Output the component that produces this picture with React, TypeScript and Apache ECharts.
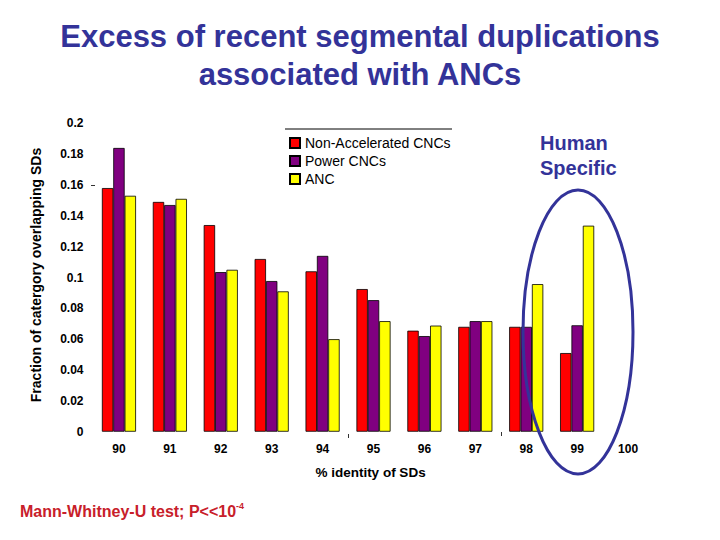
import React, { useEffect, useRef } from "react";
import * as echarts from "echarts";

const categories = ["90", "91", "92", "93", "94", "95", "96", "97", "98", "99", "100"];
const nonAccelerated = [0.158, 0.149, 0.134, 0.112, 0.104, 0.0925, 0.0655, 0.068, 0.068, 0.051, null];
const powerCNCs = [0.184, 0.147, 0.1035, 0.0977, 0.114, 0.0853, 0.062, 0.0717, 0.068, 0.069, null];
const ancValues = [0.153, 0.151, 0.105, 0.091, 0.06, 0.0717, 0.0688, 0.0717, 0.0957, 0.1336, null];
const seriesNames = ["Non-Accelerated CNCs", "Power CNCs", "ANC"];
const seriesColors = ["#ff0000", "#800080", "#ffff00"];

const FONT = "'Liberation Sans', Arial, Helvetica, sans-serif";
const BLUE = "#333399";

export default function App() {
  const ref = useRef<HTMLDivElement>(null);
  useEffect(() => {
    document.body.style.margin = "0";
    const chart = echarts.init(ref.current!, null, { renderer: "svg" });
    const seriesData = [nonAccelerated, powerCNCs, ancValues];
    chart.setOption({
      animation: false,
      backgroundColor: "#ffffff",
      grid: { left: 93.5, right: 66.5, top: 123.3, bottom: 108.3, containLabel: false },
      legend: {
        orient: "vertical",
        left: 284,
        top: 131,
        itemWidth: 10,
        itemHeight: 10,
        itemGap: 4,
        selectedMode: false,
        icon: "rect",
        textStyle: { fontFamily: FONT, fontSize: 14, color: "#000" },
        data: seriesNames,
      },
      xAxis: {
        type: "category",
        data: categories,
        axisLine: { show: false },
        axisTick: { show: false },
        axisLabel: { fontFamily: FONT, fontWeight: "bold", fontSize: 12, color: "#000", margin: 11 },
      },
      yAxis: {
        type: "value",
        min: 0,
        max: 0.2,
        interval: 0.02,
        axisLine: { show: false },
        axisTick: { show: false },
        splitLine: { show: false },
        axisLabel: {
          fontFamily: FONT,
          fontWeight: "bold",
          fontSize: 12,
          color: "#000",
          margin: 10,
          formatter: (v: number) => String(+v.toFixed(2)),
        },
      },
      series: seriesNames.map((name, i) => ({
        name,
        type: "bar",
        data: seriesData[i],
        barGap: "0%",
        barCategoryGap: "33%",
        itemStyle: { color: seriesColors[i], borderColor: "#000", borderWidth: 0.8 },
      })),
      graphic: [
        {
          type: "text",
          x: 360,
          y: 36,
          style: {
            text: "Excess of recent segmental duplications",
            font: `bold 31px ${FONT}`,
            fill: BLUE,
            textAlign: "center",
            textVerticalAlign: "middle",
          },
        },
        {
          type: "text",
          x: 360,
          y: 74,
          style: {
            text: "associated with ANCs",
            font: `bold 31px ${FONT}`,
            fill: BLUE,
            textAlign: "center",
            textVerticalAlign: "middle",
          },
        },
        {
          type: "text",
          x: 36,
          y: 275,
          rotation: Math.PI / 2,
          style: {
            text: "Fraction of catergory overlapping SDs",
            font: `bold 14px ${FONT}`,
            fill: "#000",
            textAlign: "center",
            textVerticalAlign: "middle",
          },
        },
        {
          type: "text",
          x: 370.5,
          y: 472.5,
          style: {
            text: "% identity of SDs",
            font: `bold 13.5px ${FONT}`,
            fill: "#000",
            textAlign: "center",
            textVerticalAlign: "middle",
          },
        },
        {
          type: "text",
          x: 540,
          y: 143,
          style: {
            text: "Human",
            font: `bold 20px ${FONT}`,
            fill: BLUE,
            textAlign: "left",
            textVerticalAlign: "middle",
          },
        },
        {
          type: "text",
          x: 540,
          y: 168,
          style: {
            text: "Specific",
            font: `bold 20px ${FONT}`,
            fill: BLUE,
            textAlign: "left",
            textVerticalAlign: "middle",
          },
        },
        {
          type: "text",
          x: 20,
          y: 511,
          style: {
            text: "{a|Mann-Whitney-U test; P<<10}{b|-4}",
            rich: {
              a: { fontFamily: FONT, fontWeight: "bold", fontSize: 16, fill: "#c8202a", color: "#c8202a", lineHeight: 20 },
              b: { fontFamily: FONT, fontWeight: "bold", fontSize: 9, fill: "#c8202a", color: "#c8202a", verticalAlign: "top", lineHeight: 20 },
            },
            textAlign: "left",
            textVerticalAlign: "middle",
          },
        },
        {
          type: "line",
          shape: { x1: 285, y1: 129, x2: 452, y2: 129 },
          style: { stroke: "#000", lineWidth: 1 },
        },
        {
          type: "line",
          shape: { x1: 91, y1: 185.5, x2: 95, y2: 185.5 },
          style: { stroke: "#333", lineWidth: 1 },
        },
        {
          type: "line",
          shape: { x1: 348.5, y1: 434, x2: 348.5, y2: 438 },
          style: { stroke: "#333", lineWidth: 1 },
        },
        {
          type: "line",
          shape: { x1: 501.5, y1: 432, x2: 501.5, y2: 436 },
          style: { stroke: "#333", lineWidth: 1 },
        },
        {
          type: "ellipse",
          z: 100,
          shape: { cx: 578, cy: 332, rx: 55, ry: 142 },
          style: { fill: "none", stroke: BLUE, lineWidth: 3 },
        },
      ],
    });
    return () => chart.dispose();
  }, []);
  return <div ref={ref} style={{ width: 720, height: 540 }} />;
}
